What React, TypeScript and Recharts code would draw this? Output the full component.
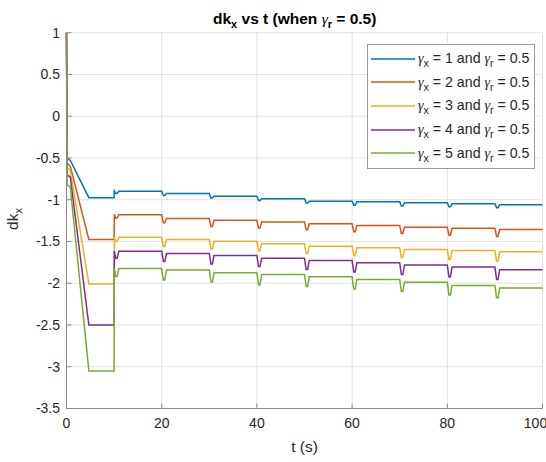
import React from 'react';
import { LineChart, Line, XAxis, YAxis, CartesianGrid, Legend, Customized } from 'recharts';

// time samples (s)
const TIME = [
  0, 0.15, 0.8, 4.7, 10,
  10.05, 10.35, 10.65, 11,
  20, 20.35, 20.65, 21,
  30, 30.35, 30.65, 31,
  40, 40.35, 40.65, 41,
  50, 50.35, 50.65, 51,
  60, 60.35, 60.65, 61,
  70, 70.35, 70.65, 71,
  80, 80.35, 80.65, 81,
  90, 90.35, 90.65, 91,
  100,
];

const GAMMA_X = ['1', '2', '3', '4', '5'];
const GAMMA_R = '0.5';

const DK_G1 = [
  1, -0.50, -0.53, -0.975, -0.975,
  -0.895, -0.925, -0.925, -0.898,
  -0.898, -0.95, -0.95, -0.926,
  -0.926, -0.98, -0.98, -0.957,
  -0.957, -1.01, -1.01, -0.987,
  -0.987, -1.04, -1.04, -1.017,
  -1.017, -1.065, -1.065, -1.025,
  -1.025, -1.075, -1.075, -1.037,
  -1.037, -1.085, -1.085, -1.049,
  -1.049, -1.095, -1.095, -1.061,
  -1.061,
];
const DK_G2 = [
  1, -0.56, -0.60, -1.475, -1.475,
  -1.175, -1.22, -1.22, -1.18,
  -1.18, -1.275, -1.275, -1.225,
  -1.225, -1.32, -1.32, -1.245,
  -1.245, -1.34, -1.34, -1.267,
  -1.267, -1.36, -1.36, -1.289,
  -1.289, -1.385, -1.385, -1.309,
  -1.309, -1.405, -1.405, -1.329,
  -1.329, -1.425, -1.425, -1.341,
  -1.341, -1.44, -1.44, -1.356,
  -1.356,
];
const DK_G3 = [
  1, -0.61, -0.65, -2.01, -2.01,
  -1.445, -1.50, -1.50, -1.448,
  -1.448, -1.56, -1.56, -1.476,
  -1.476, -1.59, -1.59, -1.496,
  -1.496, -1.61, -1.61, -1.528,
  -1.528, -1.645, -1.645, -1.556,
  -1.556, -1.67, -1.67, -1.576,
  -1.576, -1.695, -1.695, -1.596,
  -1.596, -1.715, -1.715, -1.608,
  -1.608, -1.735, -1.735, -1.624,
  -1.624,
];
const DK_G4 = [
  1, -0.70, -0.73, -2.50, -2.50,
  -1.615, -1.70, -1.70, -1.616,
  -1.616, -1.74, -1.74, -1.644,
  -1.644, -1.77, -1.77, -1.667,
  -1.667, -1.80, -1.80, -1.70,
  -1.70, -1.835, -1.835, -1.727,
  -1.727, -1.865, -1.865, -1.755,
  -1.755, -1.895, -1.895, -1.783,
  -1.783, -1.925, -1.925, -1.807,
  -1.807, -1.955, -1.955, -1.839,
  -1.839,
];
const DK_G5 = [
  1, -0.82, -0.85, -3.05, -3.05,
  -1.82, -1.92, -1.92, -1.823,
  -1.823, -1.96, -1.96, -1.843,
  -1.843, -1.985, -1.985, -1.875,
  -1.875, -2.02, -2.02, -1.895,
  -1.895, -2.04, -2.04, -1.923,
  -1.923, -2.07, -2.07, -1.955,
  -1.955, -2.10, -2.10, -1.987,
  -1.987, -2.14, -2.14, -2.026,
  -2.026, -2.175, -2.175, -2.058,
  -2.058,
];

const X_TICKS = [0, 20, 40, 60, 80, 100];
const Y_TICKS = [-3.5, -3, -2.5, -2, -1.5, -1, -0.5, 0, 0.5, 1];

const SERIES = [DK_G1, DK_G2, DK_G3, DK_G4, DK_G5];
const COLORS = ['#0072BD', '#D95319', '#EDB120', '#7E2F8E', '#77AC30'];

const data = TIME.map((t, i) => {
  const row: Record<string, number> = { t };
  SERIES.forEach((s, k) => {
    row['g' + k] = s[i];
  });
  return row;
});

const FONT = '"Liberation Sans", Arial, Helvetica, sans-serif';
const AXIS_COLOR = '#8a8a8a';
const TICK_COLOR = '#262626';

const Gamma = () => (
  <span style={{ fontFamily: '"Liberation Serif", serif', fontStyle: 'italic' }}>γ</span>
);
const Sub = ({ children }: { children: React.ReactNode }) => (
  <span style={{ fontSize: 10.5, position: 'relative', top: 4 }}>{children}</span>
);

const renderLegend = (props: any) => {
  const payload = props.payload || [];
  return (
    <div
      style={{
        border: '1px solid #9a9a9a',
        background: '#ffffff',
        width: 168,
        height: 125,
        boxSizing: 'border-box',
        fontFamily: FONT,
        fontSize: 14.2,
        color: TICK_COLOR,
        paddingTop: 2,
      }}
    >
      {payload.map((entry: any, i: number) => (
        <div key={i} style={{ height: 23.6, display: 'flex', alignItems: 'center', whiteSpace: 'nowrap' }}>
          <svg width={50} height={4} style={{ flex: 'none' }}>
            <line x1={3} x2={47} y1={2} y2={2} stroke={entry.color} strokeWidth={1.5} />
          </svg>
          <span>
            <Gamma />
            <Sub>x</Sub> = {GAMMA_X[i]} and <Gamma />
            <Sub>r</Sub> = {GAMMA_R}
          </span>
        </div>
      ))}
    </div>
  );
};

const Labels = () => (
  <g fontFamily={FONT}>
    <text x={213} y={24} fontSize={15.5} fontWeight="bold" fill="#000">
      dk
      <tspan dy={4} fontSize={11}>x</tspan>
      <tspan dy={-4}> vs t (when </tspan>
      <tspan fontFamily='"Liberation Serif", serif' fontStyle="italic" fontWeight="normal">γ</tspan>
      <tspan dy={4} fontSize={11}>r</tspan>
      <tspan dy={-4}> = 0.5)</tspan>
    </text>
    <text x={304.5} y={452} fontSize={15.5} textAnchor="middle" fill={TICK_COLOR}>
      t (s)
    </text>
    <text transform="translate(18,219) rotate(-90)" fontSize={15.5} textAnchor="middle" fill={TICK_COLOR}>
      dk<tspan dy={4} fontSize={11}>x</tspan>
    </text>
  </g>
);

const noTick = () => <g />;

export default function App() {
  return (
    <div style={{ position: 'absolute', left: 0, top: 0, width: 546, height: 462, background: '#fff' }}>
      <LineChart
        width={546}
        height={462}
        data={data}
        margin={{ top: 32.7, right: 3.5, bottom: 23.5, left: 0 }}
      >
        <CartesianGrid stroke="#e3e3e3" strokeWidth={1} />
        <XAxis
          dataKey="t"
          type="number"
          domain={[0, 100]}
          ticks={X_TICKS}
          height={30}
          stroke={AXIS_COLOR}
          tickSize={-5}
          tickMargin={14.5}
          tick={{ fill: TICK_COLOR, fontSize: 14, fontFamily: FONT }}
        />
        <XAxis
          xAxisId="top"
          orientation="top"
          dataKey="t"
          type="number"
          domain={[0, 100]}
          ticks={X_TICKS}
          height={0}
          stroke={AXIS_COLOR}
          tickSize={-5}
          tick={noTick}
        />
        <YAxis
          type="number"
          domain={[-3.5, 1]}
          ticks={Y_TICKS}
          width={66.5}
          stroke={AXIS_COLOR}
          tickSize={-5}
          tickMargin={11.5}
          tick={{ fill: TICK_COLOR, fontSize: 14, fontFamily: FONT }}
        />
        <YAxis
          yAxisId="right"
          orientation="right"
          type="number"
          domain={[-3.5, 1]}
          ticks={Y_TICKS}
          width={0}
          stroke={AXIS_COLOR}
          tickSize={-5}
          tick={noTick}
        />
        {SERIES.map((_, k) => (
          <Line
            key={k}
            type="linear"
            dataKey={'g' + k}
            name={`gamma_x = ${GAMMA_X[k]} and gamma_r = ${GAMMA_R}`}
            stroke={COLORS[k]}
            strokeWidth={1.5}
            dot={false}
            activeDot={false}
            isAnimationActive={false}
          />
        ))}
        <Legend
          layout="vertical"
          align="center"
          verticalAlign="middle"
          content={renderLegend}
          wrapperStyle={{ position: 'absolute', top: 44, left: 367, width: 168, height: 125 }}
        />
        <Customized component={Labels} />
      </LineChart>
    </div>
  );
}
